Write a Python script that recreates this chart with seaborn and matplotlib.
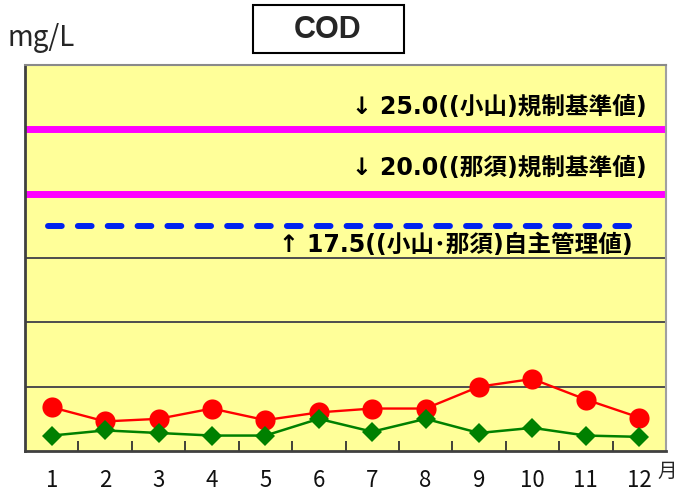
import matplotlib
matplotlib.use("Agg")
import matplotlib.pyplot as plt
from matplotlib.patches import Rectangle
import seaborn as sns
import pandas as pd

# Monthly COD (mg/L)
months = [1, 2, 3, 4, 5, 6, 7, 8, 9, 10, 11, 12]
month_labels = ["1", "2", "3", "4", "5", "6", "7", "8", "9", "10", "11", "12"]
cod_red = [3.4, 2.3, 2.5, 3.3, 2.4, 3.0, 3.3, 3.3, 5.0, 5.6, 4.0, 2.6]
cod_green = [1.2, 1.6, 1.4, 1.2, 1.2, 2.5, 1.5, 2.5, 1.4, 1.8, 1.2, 1.1]

# Reference levels
limit_oyama = 25.0
limit_nasu = 20.0
self_mgmt = 17.5
label_oyama = "↓ 25.0((小山)規制基準値)"
label_nasu = "↓ 20.0((那須)規制基準値)"
label_self = "↑ 17.5((小山･那須)自主管理値)"

df = pd.DataFrame({"month": months, "red": cod_red, "green": cod_green})

sns.set_theme(style="white")
plt.rcParams["font.family"] = ["Noto Sans CJK JP", "DejaVu Sans"]

fig = plt.figure(figsize=(6.76, 4.95), dpi=100)
ax = fig.add_axes([25 / 676, 1 - 451 / 495, 641 / 676, 386 / 495])
ax.set_facecolor("#FFFF99")

ax.set_xlim(0.5, 12.5)
ax.set_ylim(0, 30)

# grid lines
for g in [5, 10, 15, 20, 25]:
    ax.axhline(g, color="#4d4d4d", lw=1.4, zorder=1)

# limit lines
ax.axhline(limit_oyama, color="#FF00FF", lw=5, zorder=2)
ax.axhline(limit_nasu, color="#FF00FF", lw=5, zorder=2)
ax.hlines(self_mgmt, 0.93, 12.0, color="#0022EE", lw=4.3,
          linestyles=(0, (2.3, 2.7)), capstyle="round", zorder=2)

sns.lineplot(data=df, x="month", y="red", ax=ax, color="#FF0000", lw=1.7,
             marker="o", markersize=14.5, markeredgewidth=0, zorder=4)
sns.lineplot(data=df, x="month", y="green", ax=ax, color="#008000", lw=1.8,
             marker="D", markersize=10, markeredgewidth=0, zorder=5)

txt_kw = dict(ha="right", va="center", fontsize=17, fontweight="bold",
              family=["DejaVu Sans", "Noto Sans CJK JP"],
              color="black", zorder=6)
ax.text(12.14, limit_oyama + 1.7, label_oyama, **txt_kw)
ax.text(12.14, limit_nasu + 2.0, label_nasu, **txt_kw)
ax.text(11.88, self_mgmt - 1.5, label_self, **txt_kw)

# axes frame
ax.spines["left"].set_color("#404040")
ax.spines["left"].set_linewidth(2)
ax.spines["bottom"].set_color("#404040")
ax.spines["bottom"].set_linewidth(2)
ax.spines["top"].set_color("#8a8a8a")
ax.spines["top"].set_linewidth(1.5)
ax.spines["right"].set_color("#a0a0a0")
ax.spines["right"].set_linewidth(1.5)

ax.set_xlabel("")
ax.set_ylabel("")
ax.set_yticks([])
ax.set_xticks(months)
ax.set_xticklabels(month_labels, fontsize=16, color="#111111")
ax.tick_params(axis="x", which="major", length=0, pad=13)
ax.set_xticks([m + 0.5 for m in months[:-1]], minor=True)
ax.tick_params(axis="x", which="minor", direction="in", length=7,
               width=1.3, color="#333333", bottom=True)

# unit labels
fig.text(8 / 676, 1 - 38 / 495, "mg/L", fontsize=20, va="center", ha="left")
fig.text(657 / 676, 1 - 471 / 495, "月", fontsize=14, va="center", ha="left")

# title box
fig.patches.append(Rectangle((253 / 676, 1 - 53 / 495), 151 / 676, 48 / 495,
                             transform=fig.transFigure, fill=False,
                             edgecolor="black", lw=1.5))
fig.text(328 / 676, 1 - 30 / 495, "COD", fontsize=22, fontweight="bold",
         family=["Liberation Sans", "DejaVu Sans"], ha="center", va="center")

fig.savefig("out.png", dpi=100, facecolor="white")
